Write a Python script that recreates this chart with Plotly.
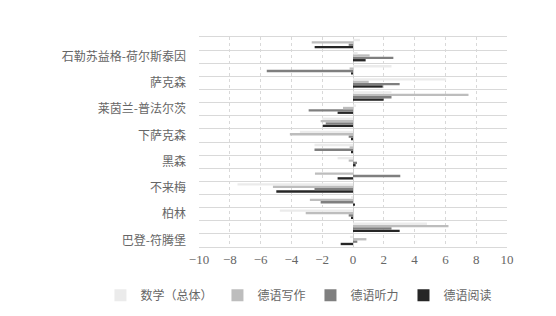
import plotly.graph_objects as go

# German federal states, bottom to top (alphabetical order of the German names)
states = [
    "巴登-符腾堡", "巴伐利亚", "柏林", "勃兰登堡", "不来梅", "汉堡", "黑森",
    "梅克伦堡-前波美拉尼亚", "下萨克森", "北莱茵-威斯特法伦", "莱茵兰-普法尔茨",
    "萨尔", "萨克森", "萨克森-安哈特", "石勒苏益格-荷尔斯泰因", "图林根",
]

# Deviation per subject, same order as states
math_total = [-0.2, 4.8, -4.75, -0.1, -7.5, 0.0, -1.0, -2.5, -3.45, -2.0, 0.2, 2.5, 6.05, 2.5, 0.3, 0.45]
german_writing = [0.87, 6.2, -3.07, -2.8, -5.2, -2.47, -0.28, -0.22, -4.1, -2.1, -0.65, 7.5, 1.02, -0.22, 1.08, -2.68]
german_listening = [0.28, 2.5, -0.28, -2.1, -2.5, 3.07, 0.26, -2.5, -0.28, -1.77, -2.88, 2.5, 3.03, -5.6, 2.62, -0.28]
german_reading = [-0.8, 3.03, -0.1, 0.09, -4.98, -1.0, 0.17, -0.1, -0.09, -1.97, -1.0, 1.99, 1.93, -0.09, 0.82, -2.49]

series_names = ["数学（总体）", "德语写作", "德语听力", "德语阅读"]
series_values = [math_total, german_writing, german_listening, german_reading]
series_colors = ["#ebebeb", "#bdbdbd", "#7f7f7f", "#262626"]

# Only every other state carries a visible axis label
tick_text = [name if i % 2 == 0 else "" for i, name in enumerate(states)]

text_color = "#666666"

fig = go.Figure()
# Added last-to-first so the first series sits on top within each group
for rank in reversed(range(len(series_names))):
    fig.add_trace(go.Bar(
        y=states,
        x=series_values[rank],
        name=series_names[rank],
        orientation="h",
        marker=dict(color=series_colors[rank], line=dict(width=0)),
        legendrank=rank + 1,
    ))

fig.update_layout(
    width=556,
    height=316,
    margin=dict(l=199, r=49, t=37, b=69, autoexpand=False),
    paper_bgcolor="white",
    plot_bgcolor="white",
    barmode="group",
    bargap=0.28,
    bargroupgap=0,
    font=dict(family="Noto Sans CJK SC", size=12, color=text_color),
    showlegend=True,
    legend=dict(
        orientation="h",
        x=-0.32,
        xanchor="left",
        y=-0.23,
        yanchor="middle",
        font=dict(family="Noto Sans CJK SC", size=12, color=text_color),
        itemwidth=30,
        tracegroupgap=0,
        traceorder="normal",
    ),
)

fig.update_xaxes(
    range=[-10, 10],
    dtick=2,
    tick0=0,
    showgrid=True,
    gridcolor="#d9d9d9",
    griddash="dot",
    gridwidth=1,
    zeroline=True,
    zerolinecolor="#d0d0d0",
    zerolinewidth=1,
    showline=True,
    linecolor="#d9d9d9",
    linewidth=1,
    mirror=True,
    ticks="",
    ticklabelstandoff=0,
    tickfont=dict(family="Liberation Serif", size=13, color=text_color),
)

fig.update_yaxes(
    type="category",
    categoryorder="array",
    categoryarray=states,
    tickmode="array",
    tickvals=states,
    ticktext=tick_text,
    tickson="boundaries",
    showgrid=True,
    gridcolor="#d9d9d9",
    gridwidth=1,
    showline=False,
    ticks="",
    ticklabelstandoff=12,
    tickfont=dict(family="Noto Sans CJK SC", size=12, color=text_color),
)

fig.write_html("out.html")
